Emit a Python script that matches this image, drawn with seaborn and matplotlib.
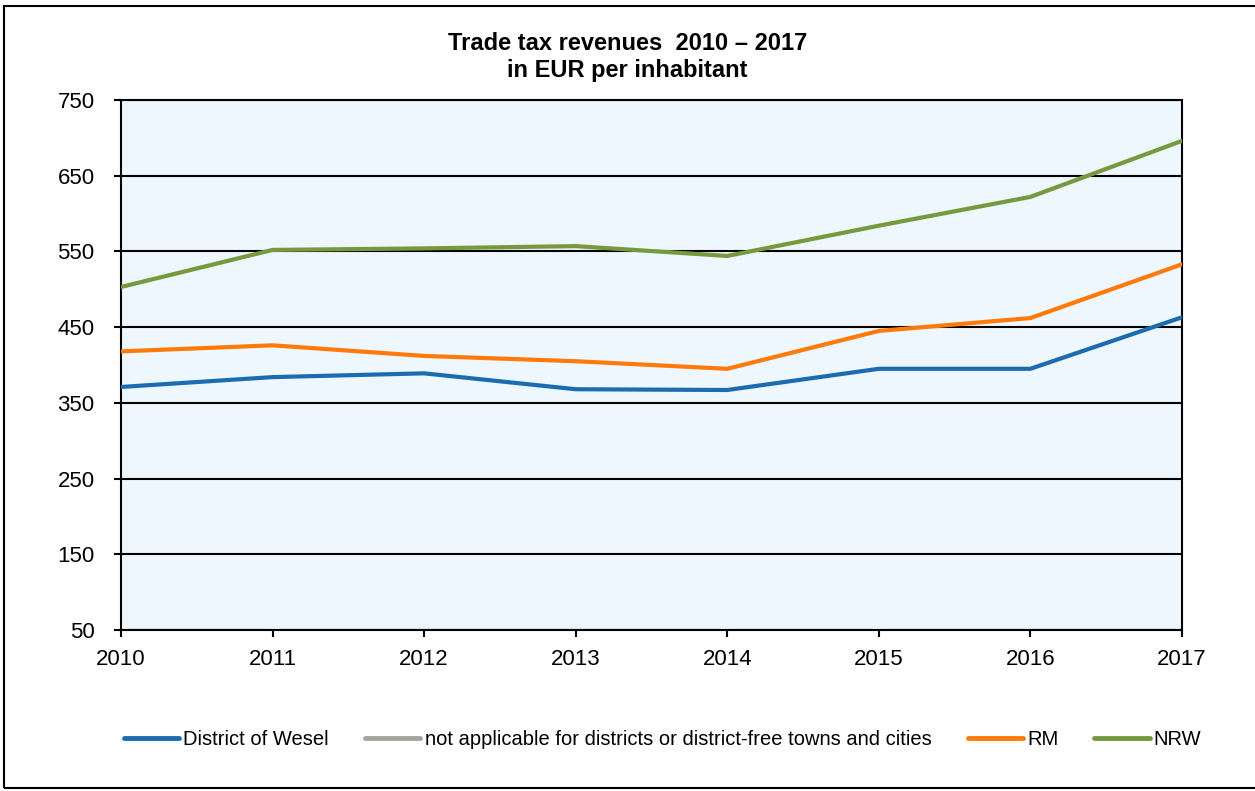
import pandas as pd
import numpy as np
import seaborn as sns
import matplotlib.pyplot as plt
from matplotlib.patches import Rectangle
from matplotlib.lines import Line2D

sns.set_style("white")
plt.rcParams['font.family'] = ['Liberation Sans', 'DejaVu Sans']
plt.rcParams['text.color'] = 'black'
plt.rcParams['xtick.color'] = 'black'
plt.rcParams['ytick.color'] = 'black'

# values
years = [2010, 2011, 2012, 2013, 2014, 2015, 2016, 2017]
wesel = [371, 384, 389, 368, 367, 395, 395, 463]
rm = [418, 426, 412, 405, 395, 445, 462, 533]
nrw = [503, 552, 554, 557, 544, 584, 622, 696]
y_ticks = [50, 150, 250, 350, 450, 550, 650, 750]

names = ["District of Wesel",
         "not applicable for districts or district-free towns and cities",
         "RM", "NRW"]
colors = {"District of Wesel": "#1B6BB0", names[1]: "#A5A59B",
          "RM": "#FF7A0A", "NRW": "#77993D"}

df = pd.DataFrame({"year": years, names[0]: wesel, "RM": rm, "NRW": nrw})
long = df.melt(id_vars="year", var_name="series", value_name="value")

fig = plt.figure(figsize=(12.55, 7.91), dpi=100)
ax = fig.add_axes([0.0964, 0.2035, 0.8454, 0.6701])
ax.set_facecolor("#EEF7FE")

sns.lineplot(data=long, x="year", y="value", hue="series", palette=colors,
             linewidth=3, ax=ax, legend=False, zorder=3)

ax.set_xlim(2010, 2017)
ax.set_ylim(50, 750)
ax.set_xticks(years)
ax.set_yticks(y_ticks)
ax.yaxis.grid(True, color="black", linewidth=1.5)
ax.set_axisbelow(True)
for s in ax.spines.values():
    s.set_color("black")
    s.set_linewidth(1.5)
ax.tick_params(axis="both", labelsize=16, length=5, width=1.5, direction="out",
               left=True, bottom=True, color="black", labelcolor="black")
ax.tick_params(axis="x", pad=9)
ax.tick_params(axis="y", pad=14)
ax.set_xlabel("")
ax.set_ylabel("")

fig.text(0.5, 0.959, "Trade tax revenues  2010 \u2013 2017\nin EUR per inhabitant",
         ha="center", va="top", fontsize=17, fontweight="bold", linespacing=1.2)

handles = [Line2D([], [], color=colors[n], linewidth=3.5) for n in names]
fig.legend(handles, names, loc="center", bbox_to_anchor=(0.528, 0.0645), ncol=4,
           frameon=False, fontsize=14.5, handlelength=2.75, handletextpad=0.2,
           columnspacing=1.8)

fig.patches.append(Rectangle((0.003, 0.004), 1.2, 0.988, transform=fig.transFigure,
                             fill=False, edgecolor="black", linewidth=1.5))

fig.savefig("out.png", dpi=100)
